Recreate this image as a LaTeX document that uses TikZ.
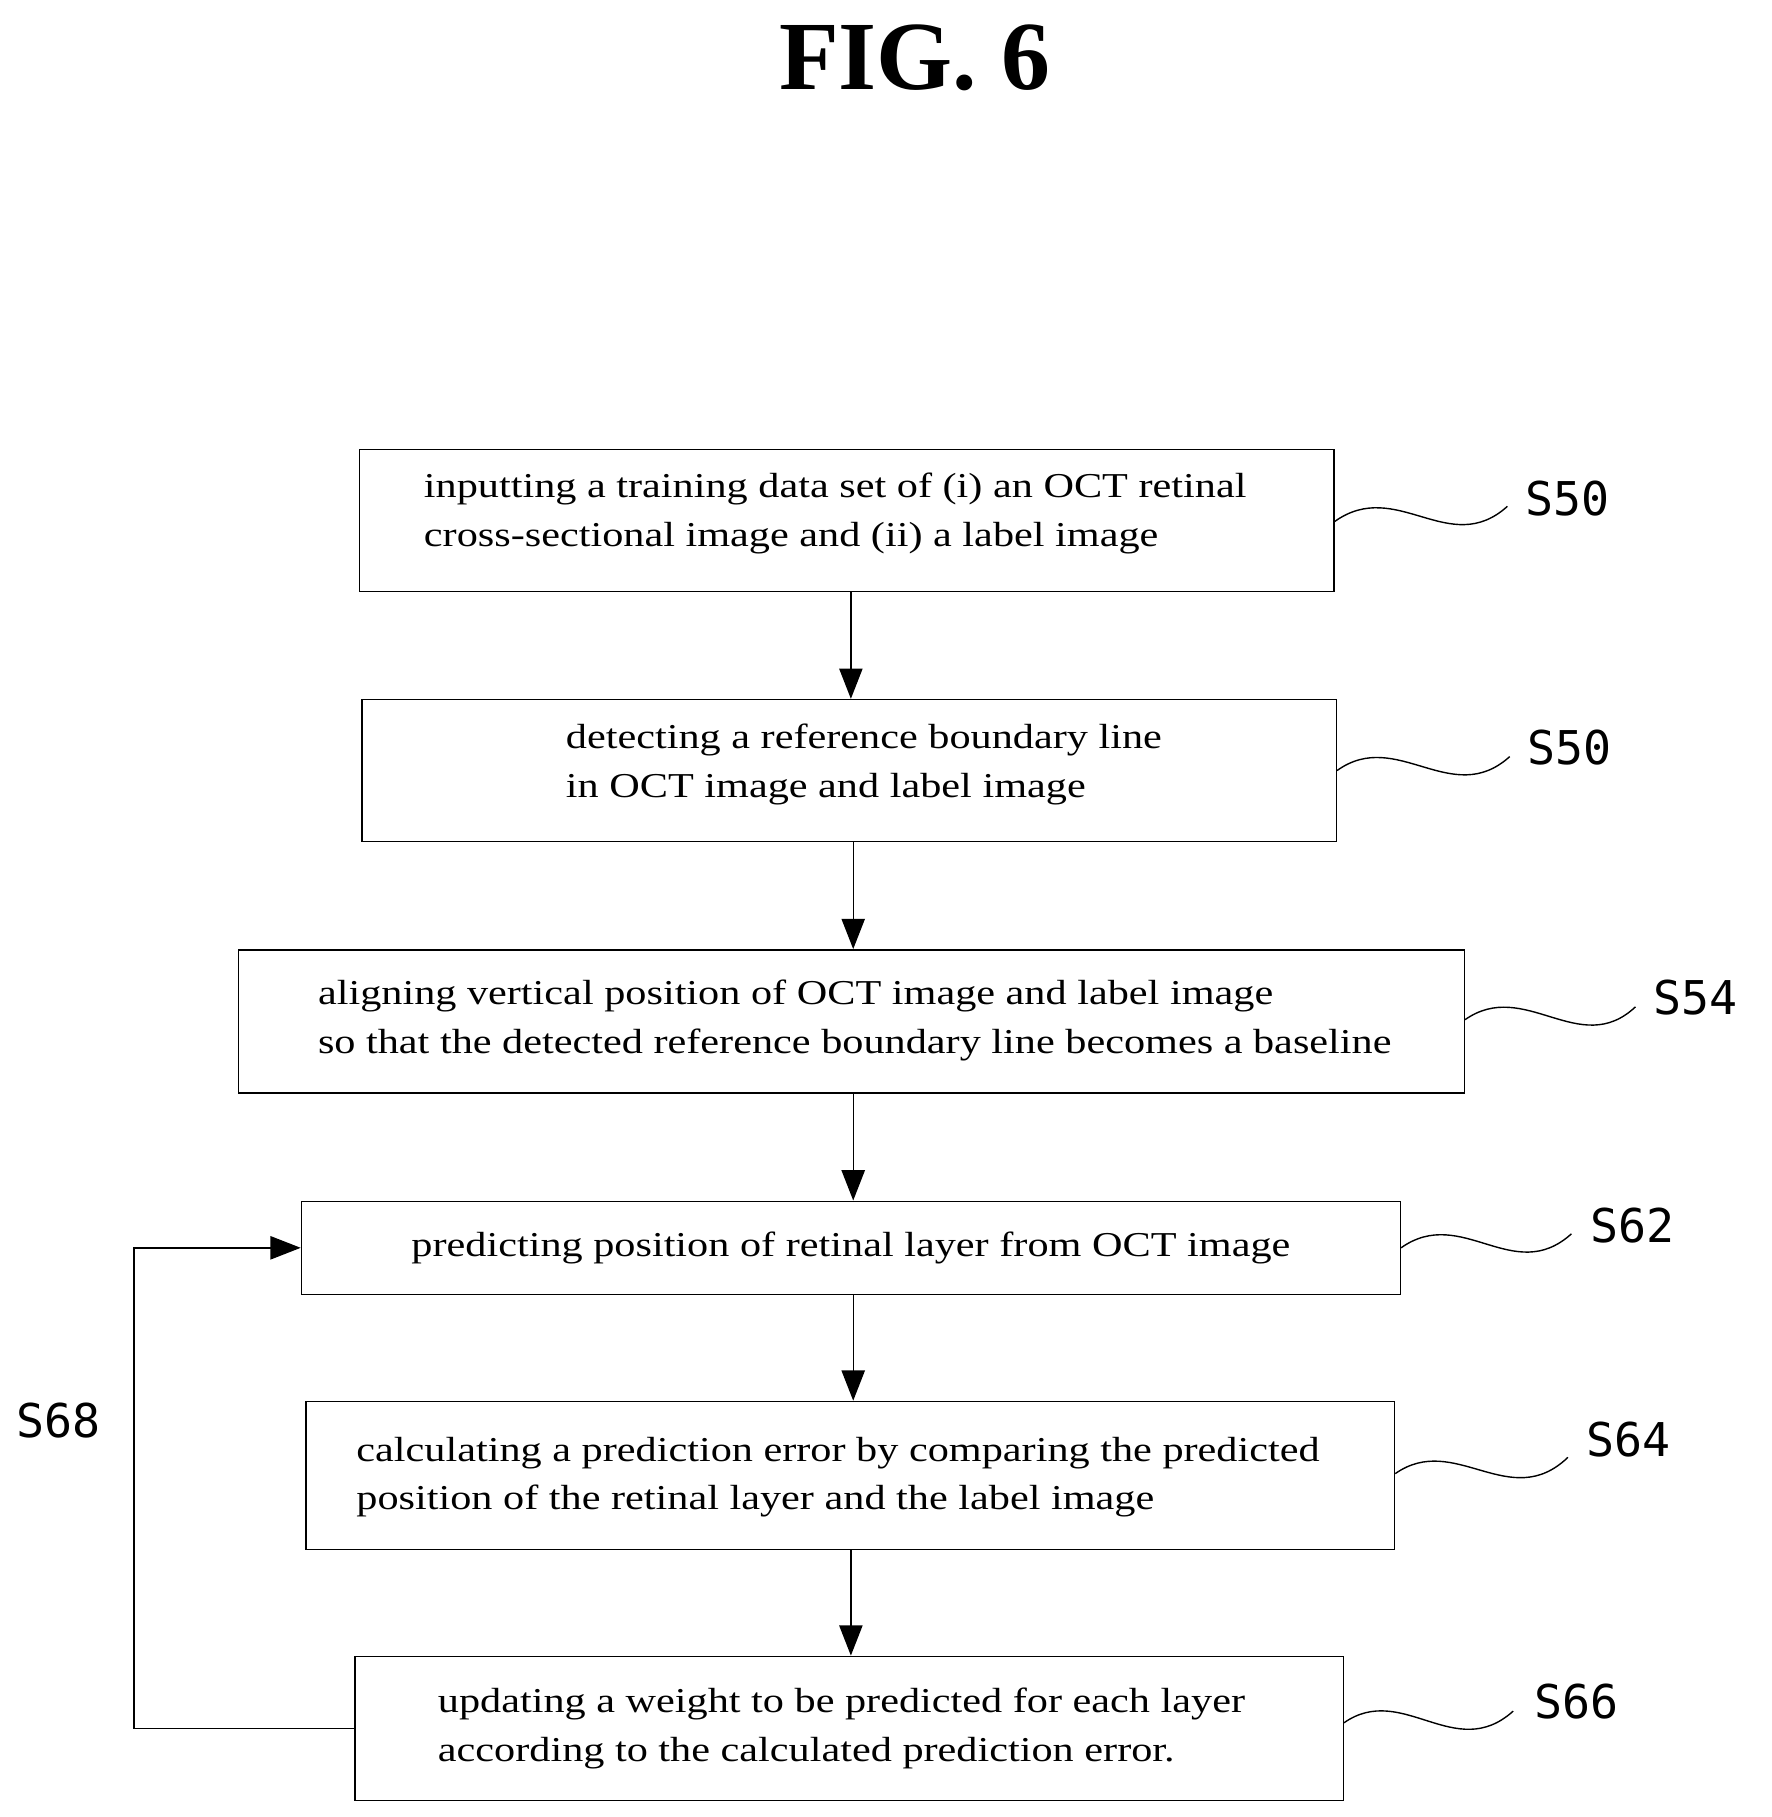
\documentclass[tikz,border=0pt]{standalone}
\usepackage{fontspec}
\setmainfont{Liberation Serif}[FakeStretch=1.21]
\newfontfamily\titlefont{Liberation Serif}
\newfontfamily\labfont{DejaVu Sans Mono}
\usetikzlibrary{arrows.meta}
\begin{document}
\begin{tikzpicture}[x=1pt,y=-1pt,
  box/.style={draw,line width=1.3pt,inner sep=0pt},
  txt/.style={anchor=west,align=left,inner sep=0pt,font=\fontsize{30}{42}\selectfont},
  arr/.style={line width=1.2pt,-{Triangle[length=26pt,width=20pt]}},
  lab/.style={font=\labfont\fontsize{40}{40}\selectfont,anchor=west,inner sep=0pt},
  sq/.style={line width=1.2pt}]
\useasboundingbox (0,0) rectangle (1522,1561);
\node[font=\titlefont\bfseries\fontsize{84}{84}\selectfont] (title) at (786,50) {FIG. 6};
\newcommand{\bx}[5]{\node[box,minimum width=#4-#2,minimum height=#5-#3] (#1) at ({(#2+#4)/2},{(#3+#5)/2}) {};}
\bx{b1}{309}{386}{1146}{508}
\bx{b2}{311}{601}{1148}{723}
\bx{b3}{205}{816}{1258}{939}
\bx{b4}{259}{1032}{1203}{1112}
\bx{b5}{263}{1204}{1198}{1331}
\bx{b6}{305}{1423}{1154}{1547}
\node[txt] (t1) at (364,441) {inputting a training data set of (i) an OCT retinal\\cross-sectional image and (ii) a label image};
\node[txt] (t2) at (486,657) {detecting a reference boundary line\\in OCT image and label image};
\node[txt] (t3) at (273,877) {aligning vertical position of OCT image and label image\\so that the detected reference boundary line becomes a baseline};
\node[anchor=center,inner sep=0pt,font=\fontsize{30}{42}\selectfont] (t4) at (731,1072) {predicting position of retinal layer from OCT image};
\node[txt] (t5) at (306,1269) {calculating a prediction error by comparing the predicted\\position of the retinal layer and the label image};
\node[txt] (t6) at (376,1485) {updating a weight to be predicted for each layer\\according to the calculated prediction error.};
\draw[arr] (b1.south -| 731,0) -- (b2.north -| 731,0);
\draw[arr] (b2.south -| 733,0) -- (b3.north -| 733,0);
\draw[arr] (b3.south -| 733,0) -- (b4.north -| 733,0);
\draw[arr] (b4.south -| 733,0) -- (b5.north -| 733,0);
\draw[arr] (b5.south -| 731,0) -- (b6.north -| 731,0);
\coordinate (c1) at (115,1485);
\coordinate (c2) at (115,1072);
\draw[arr] (b6.west) -- (c1) -- (c2) -- (b4.west);
\node[lab] (l1) at (1310,428) {S50};
\node[lab] (l2) at (1312,642) {S50};
\node[lab] (l3) at (1420,857) {S54};
\node[lab] (l4) at (1366,1053) {S62};
\node[lab] (l5) at (1363,1237) {S64};
\node[lab] (l6) at (1318,1462) {S66};
\node[lab] (l7) at (14,1220) {S68};
\draw[sq] (b1.east |- 0,448) .. controls (1200,410) and (1245,480) .. (1295,435);
\draw[sq] (b2.east |- 0,662) .. controls (1200,625) and (1247,695) .. (1297,650);
\draw[sq] (b3.east |- 0,876) .. controls (1310,840) and (1357,910) .. (1405,865);
\draw[sq] (b4.east |- 0,1072) .. controls (1256,1035) and (1300,1105) .. (1350,1060);
\draw[sq] (b5.east |- 0,1266) .. controls (1250,1230) and (1297,1300) .. (1347,1252);
\draw[sq] (b6.east |- 0,1480) .. controls (1205,1445) and (1250,1515) .. (1300,1470);
\end{tikzpicture}
\end{document}
